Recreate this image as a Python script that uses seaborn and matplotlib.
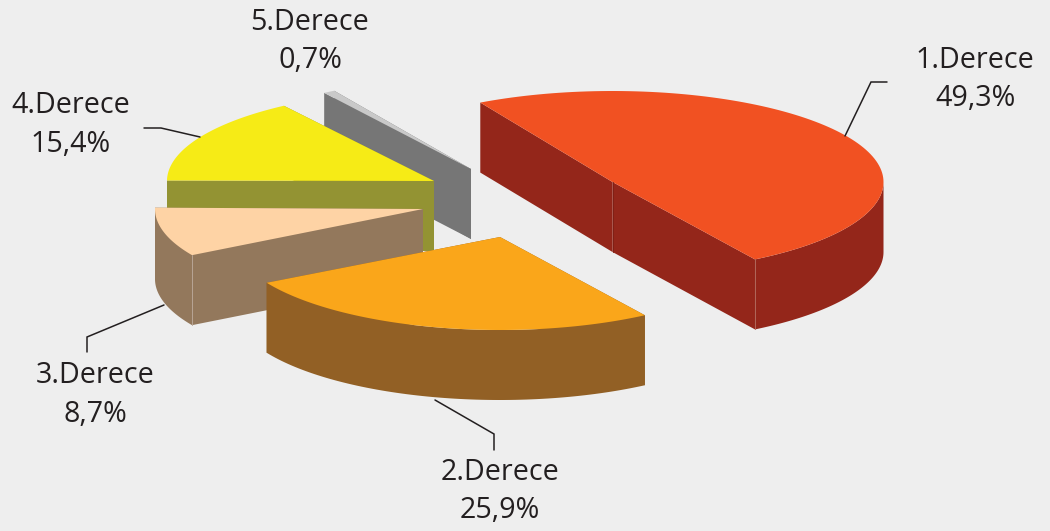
"""Exploded 3D-look pie chart of Derece shares."""

import matplotlib

matplotlib.use("Agg")
import matplotlib.pyplot as plt
import numpy as np
import seaborn as sns

CATEGORIES = ["1.Derece", "2.Derece", "3.Derece", "4.Derece", "5.Derece"]
SHARES = [49.3, 25.9, 8.7, 15.4, 0.7]

TOP_COLORS = ["#F15122", "#FAA61A", "#FED3A5", "#F6EB16", "#C9C9C9"]
SIDE_COLORS = ["#94261A", "#926025", "#93785C", "#939333", "#767676"]
SEAM_COLORS = ["#B0685A", None, "#B8A595", None, None]
BACKGROUND = "#EEEEEE"
TEXT_COLOR = "#231F20"

# layout in picture pixels
START_ANGLE = 119.2
RADII_X = [271, 268, 268, 267, 268]
RADII_Y = [91, 93, 91, 91, 91]
ANGLE_NUDGE = [0, 1, 2, 2.5, 1.5]
DEPTH = 70
APEXES = [(612.5, 182), (500, 237), (423, 209), (434, 181), (471, 169)]
DRAW_ORDER = [4, 3, 2, 1, 0]
LABEL_XY = [(975, 68), (500, 480), (95, 383), (71, 113), (310, 30)]
LINE_GAP = 38.5
LEADERS = [
    [(845, 136), (871, 82), (887, 82)],
    [(435, 400), (494, 434), (494, 450)],
    [(164, 305), (87, 337), (87, 352)],
    [(200, 137), (161, 128), (144, 128)],
]


def ellipse_point(index, angle):
    apex = APEXES[index]
    rad = np.deg2rad(angle)
    return apex[0] + RADII_X[index] * np.cos(rad), apex[1] - RADII_Y[index] * np.sin(rad)


def draw_wall(ax, index, angle, color):
    apex = APEXES[index]
    x, y = ellipse_point(index, angle)
    ax.fill(
        [apex[0], x, x, apex[0]],
        [apex[1], y, y + DEPTH, apex[1] + DEPTH],
        color=color,
        lw=0,
    )


def draw_rim(ax, index, high, low, color):
    # only the part of the arc facing the viewer
    front_from = max(low, -180 if low < 0 else 180)
    front_to = min(high, 0 if low < 0 else 360)
    if front_to <= front_from:
        return
    x, y = ellipse_point(index, np.linspace(front_from, front_to, 80))
    ax.fill(
        np.concatenate([x, x[::-1]]),
        np.concatenate([y, y[::-1] + DEPTH]),
        color=color,
        lw=0,
    )


def draw_slice(ax, index, high, low):
    apex = APEXES[index]
    side = SIDE_COLORS[index]
    draw_wall(ax, index, high, side)
    draw_wall(ax, index, low, side)
    draw_rim(ax, index, high, low, side)

    seam = SEAM_COLORS[index]
    if seam:
        x, y = ellipse_point(index, low if index == 0 else high)
        ax.plot([x, x], [y, y + DEPTH], color=seam, lw=0.7)
        if index == 0:
            ax.plot([apex[0], apex[0]], [apex[1], apex[1] + DEPTH], color="#7F2015", lw=0.7)

    x, y = ellipse_point(index, np.linspace(low, high, 120))
    ax.fill(
        np.concatenate([[apex[0]], x]),
        np.concatenate([[apex[1]], y]),
        color=TOP_COLORS[index],
        lw=0,
    )


def main():
    sns.set_style("white")
    plt.rcParams["font.family"] = ["Open Sans", "DejaVu Sans"]

    fig = plt.figure(figsize=(10.5, 5.31), dpi=100, facecolor=BACKGROUND)
    ax = fig.add_axes([0, 0, 1, 1])
    ax.set_facecolor(BACKGROUND)
    ax.set_xlim(0, 1050)
    ax.set_ylim(531, 0)
    ax.axis("off")

    # slices run clockwise from the start angle
    ends = START_ANGLE - np.cumsum(SHARES) * 3.6
    highs = np.concatenate([[START_ANGLE], ends[:-1]])

    for index in DRAW_ORDER:
        low, high = ends[index], highs[index]
        # keep the left hand slices in 0..360 so their front arc is found
        if index > 0:
            low, high = low + 360, high + 360
        nudge = ANGLE_NUDGE[index]
        draw_slice(ax, index, high + nudge, low + nudge)

    for path in LEADERS:
        xs, ys = zip(*path)
        ax.plot(xs, ys, color=TEXT_COLOR, lw=1.1, solid_joinstyle="miter")

    for name, share, (x, y) in zip(CATEGORIES, SHARES, LABEL_XY):
        ax.text(x, y, name, ha="center", va="baseline", fontsize=20.6, color=TEXT_COLOR)
        ax.text(
            x,
            y + LINE_GAP,
            f"{share:.1f}%".replace(".", ","),
            ha="center",
            va="baseline",
            fontsize=20.6,
            color=TEXT_COLOR,
        )

    fig.savefig("out.png", dpi=100, facecolor=BACKGROUND)
    plt.close(fig)


if __name__ == "__main__":
    main()
